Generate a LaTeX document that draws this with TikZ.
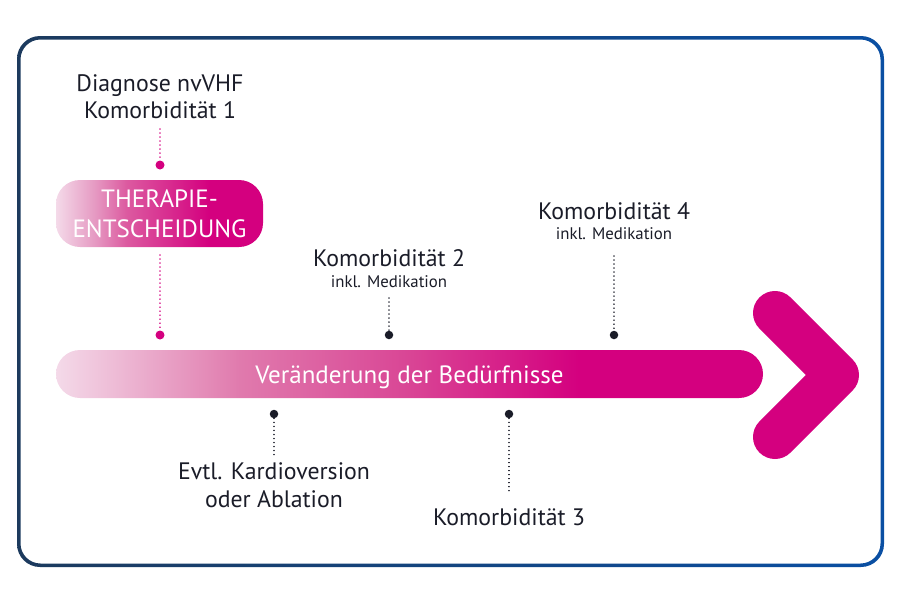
\documentclass[tikz,border=0pt]{standalone}
\usepackage{fontspec}
\setmainfont{PT Sans}
\definecolor{ink}{HTML}{1A1C28}
\definecolor{mag}{HTML}{D4007F}
\definecolor{pa}{HTML}{F4DAE9}
\definecolor{pb}{HTML}{E07AAD}
\definecolor{pc}{HTML}{D94595}
\definecolor{ta}{HTML}{F4DAE9}
\definecolor{tb}{HTML}{E69CC4}
\definecolor{tc}{HTML}{DC5AA0}
\definecolor{navyL}{HTML}{1C3A5D}
\definecolor{blueR}{HTML}{0A4FA3}
\pgfdeclarehorizontalshading{barshade}{100bp}{color(0bp)=(pa); color(25bp)=(pa); color(38bp)=(pb); color(50bp)=(pc); color(62bp)=(mag); color(100bp)=(mag)}
\pgfdeclarehorizontalshading{thershade}{100bp}{color(0bp)=(ta); color(25bp)=(ta); color(34bp)=(tb); color(42bp)=(tc); color(62bp)=(mag); color(100bp)=(mag)}
\begin{document}
\begin{tikzpicture}[x=1pt,y=-1pt,
  txt/.style={text=ink, align=center, inner sep=0pt, font=\fontsize{23.8}{27.5}\selectfont},
  smalltxt/.style={text=ink, align=center, inner sep=0pt, font=\fontsize{16.8}{18}\selectfont},
  dotline/.style={line width=1.5pt, dash pattern=on 0.01pt off 4pt, line cap=round},
  pinkdot/.style={circle, fill=mag, inner sep=0pt, minimum size=9pt},
  blackdot/.style={circle, fill=ink, inner sep=0pt, minimum size=8.5pt},
  pill/.style={shade, text=white, align=center, inner sep=0pt, rounded corners=24pt}]
\useasboundingbox (0,0) rectangle (900,600);
% frame
\shade[even odd rule, left color=navyL, right color=blueR]
  [rounded corners=23pt] (17,36) rectangle (884,567)
  [rounded corners=20pt] (20.5,39.5) rectangle (880.5,563.5);
% chevron
\coordinate (chtop) at (775,313);
\coordinate (chtip) at (837,375);
\coordinate (chbot) at (775,437);
\draw[mag, line width=44pt, line cap=round, line join=round] (chtop) -- (chtip) -- (chbot);
% main bar
\node[pill, shading=barshade, minimum width=707pt, minimum height=48pt,
  font=\fontsize{25}{27}\selectfont, text depth=4pt, text height=23pt] (bar) at (409.5,374) {Veränderung der Bedürfnisse};
% therapy box
\node[pill, shading=thershade, minimum width=207pt, minimum height=67pt,
  font=\fontsize{25}{30}\selectfont] (ther) at (159.5,213.5) {THERAPIE-\\ENTSCHEIDUNG};
% diagnosis
\node[txt] (diag) at (160,96.5) {Diagnose nvVHF\\Komorbidität 1};
\coordinate (d0) at (160,129);
\node[pinkdot] (p1) at (160,165) {};
\draw[mag, dotline] (d0) -- (p1);
\coordinate (d1) at (160,255);
\node[pinkdot] (p2) at (160,335) {};
\draw[mag, dotline] (d1) -- (p2);
% Komorbiditaet 2
\node[txt] (k2) at (389,258) {Komorbidität 2};
\node[smalltxt] (k2s) at (389,282) {inkl. Medikation};
\coordinate (e0) at (389,298);
\node[blackdot] (b1) at (389,335) {};
\draw[ink, dotline] (e0) -- (b1);
% Komorbiditaet 4
\node[txt] (k4) at (614,211) {Komorbidität 4};
\node[smalltxt] (k4s) at (614,234) {inkl. Medikation};
\coordinate (f0) at (614,256);
\node[blackdot] (b2) at (614,335) {};
\draw[ink, dotline] (f0) -- (b2);
% Kardioversion
\node[blackdot] (b3) at (274,414) {};
\coordinate (g0) at (274,456);
\draw[ink, dotline] (b3) -- (g0);
\node[txt] (kv) at (274,485) {Evtl. Kardioversion\\oder Ablation};
% Komorbiditaet 3
\node[blackdot] (b4) at (509,414) {};
\coordinate (h0) at (509,493);
\draw[ink, dotline] (b4) -- (h0);
\node[txt] (k3) at (509,517) {Komorbidität 3};
\end{tikzpicture}
\end{document}
